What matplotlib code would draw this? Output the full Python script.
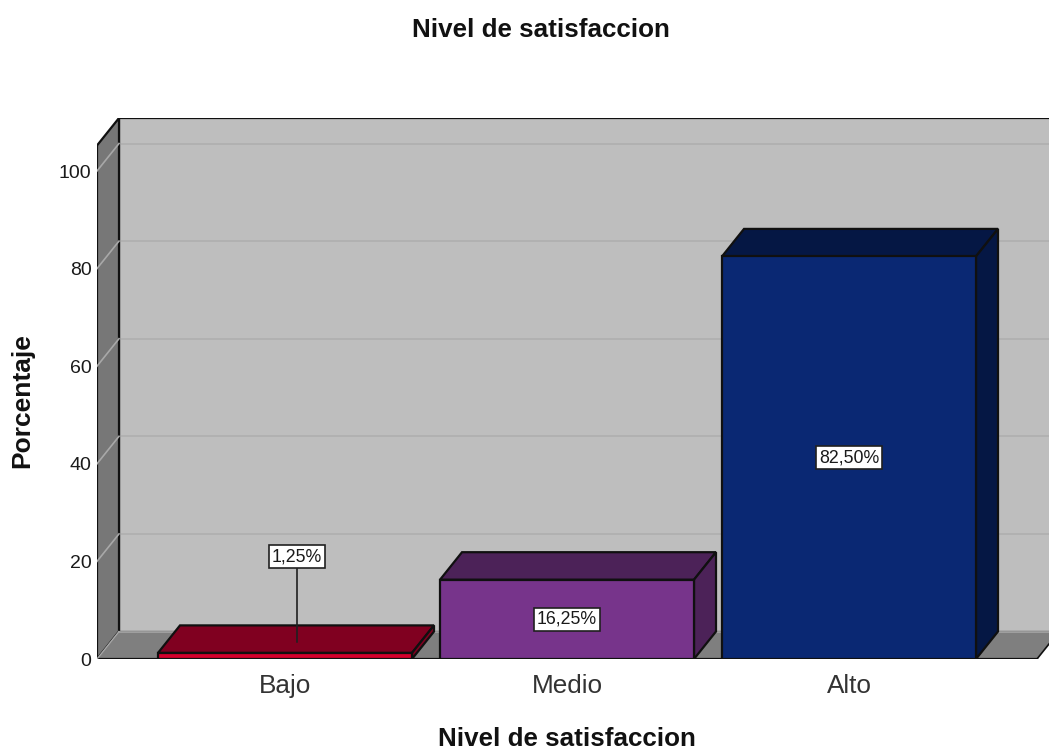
import matplotlib
matplotlib.use("Agg")
import matplotlib.pyplot as plt
from matplotlib.patches import Polygon

categories = ["Bajo", "Medio", "Alto"]
values = [1.25, 16.25, 82.5]
value_labels = ["1,25%", "16,25%", "82,50%"]
front_colors = ["#D4002C", "#77348B", "#0A2873"]
top_colors = ["#800020", "#4C2258", "#051744"]
side_colors = ["#800020", "#4C2258", "#051744"]
yticks = [0, 20, 40, 60, 80, 100]
title = "Nivel de satisfaccion"
xlabel = "Nivel de satisfaccion"
ylabel = "Porcentaje"

plt.rcParams["font.family"] = ["Liberation Sans", "DejaVu Sans"]
W, H = 1049, 752
fig = plt.figure(figsize=(W / 100, H / 100), dpi=100, facecolor="white")

# plot region in pixels
L, R, T, B = 97, 1049, 118, 659
ax = fig.add_axes([L / W, 1 - B / H, (R - L) / W, (B - T) / H])
px_x = 282.0        # pixels per category
px_y = 4.88         # pixels per percent
ax.set_xlim((L - 285) / px_x, (R - 285) / px_x)
ax.set_ylim(0, (B - T) / px_y)
for s in ax.spines.values():
    s.set_visible(False)
ax.patch.set_visible(False)

dx = 22 / px_x
dy = 27.5 / px_y
x0 = ax.get_xlim()[0]
xr = (1037 - 285) / px_x
ytop = (B - T) / px_y - dy
edge = "#101010"

# back wall, side wall, floor
ax.add_patch(Polygon([(x0 + dx, dy), (xr + dx, dy), (xr + dx, ytop + dy), (x0 + dx, ytop + dy)],
                     fc="#BEBEBE", ec=edge, lw=1.6, zorder=1))
ax.add_patch(Polygon([(x0, 0), (x0 + dx, dy), (x0 + dx, ytop + dy), (x0, ytop)],
                     fc="#777777", ec=edge, lw=1.6, zorder=2))
ax.add_patch(Polygon([(x0, 0), (x0 + dx, dy), (xr + dx, dy), (xr, 0)],
                     fc="#7F7F7F", ec="none", zorder=2))
ax.plot([x0 + dx, xr + dx], [dy, dy], color="#A6A6A6", lw=1.2, zorder=2.5)
ax.plot([x0, xr], [0, 0], color=edge, lw=1.6, zorder=2.6)
ax.plot([xr, xr + dx], [0, dy], color=edge, lw=1.2, zorder=2.6)
ax.plot([x0, x0 + dx], [0, dy], color="#A8A8A8", lw=1.0, zorder=2.6)

# grid lines
for t in yticks[1:]:
    ax.plot([x0 + dx, xr + dx], [t + dy, t + dy], color="#B0B0B0", lw=1.3, zorder=1.5)
    ax.plot([x0, x0 + dx], [t, t + dy], color="#A8A8A8", lw=1.2, zorder=2.5)

# bars
w = 254 / px_x
for i, v in enumerate(values):
    l, r = i - w / 2, i + w / 2
    ax.bar(i, v, width=w, color=front_colors[i], edgecolor=edge, linewidth=1.6, zorder=5)
    ax.add_patch(Polygon([(l, v), (l + dx, v + dy), (r + dx, v + dy), (r, v)],
                         fc=top_colors[i], ec=edge, lw=1.6, zorder=4))
    ax.add_patch(Polygon([(r, 0), (r + dx, dy), (r + dx, v + dy), (r, v)],
                         fc=side_colors[i], ec=edge, lw=1.6, zorder=4))

# value labels
box = dict(boxstyle="square,pad=0.17", fc="white", ec="#202020", lw=1.2)
ax.annotate(value_labels[0], xy=(12 / px_x, values[0] + 2.2), xytext=(12 / px_x, 21),
            ha="center", va="center", fontsize=12.8, color="#1A1A1A", bbox=box, zorder=8,
            arrowprops=dict(arrowstyle="-", color="#202020", lw=1.2, shrinkA=0, shrinkB=0))
ax.text(1, values[1] / 2, value_labels[1], ha="center", va="center", fontsize=12.8,
        color="#1A1A1A", bbox=box, zorder=8)
ax.text(2, values[2] / 2, value_labels[2], ha="center", va="center", fontsize=12.8,
        color="#1A1A1A", bbox=box, zorder=8)

# axes ticks and labels
ax.set_xticks(range(len(categories)), categories)
ax.set_yticks(yticks)
ax.tick_params(axis="x", length=0, pad=11, labelsize=18.8, labelcolor="#333333")
ax.tick_params(axis="y", length=0, pad=4, labelsize=14, labelcolor="#1A1A1A")

fig.text(541 / W, 1 - 30 / H, title, ha="center", va="center", fontsize=18.7, fontweight="bold", color="#111111")
fig.text(567 / W, 1 - 739 / H, xlabel, ha="center", va="center", fontsize=18.7, fontweight="bold", color="#111111")
fig.text(22 / W, 1 - 401 / H, ylabel, ha="center", va="center", rotation=90, fontsize=19, fontweight="bold", color="#111111")

fig.savefig("out.png", dpi=100, facecolor="white")
